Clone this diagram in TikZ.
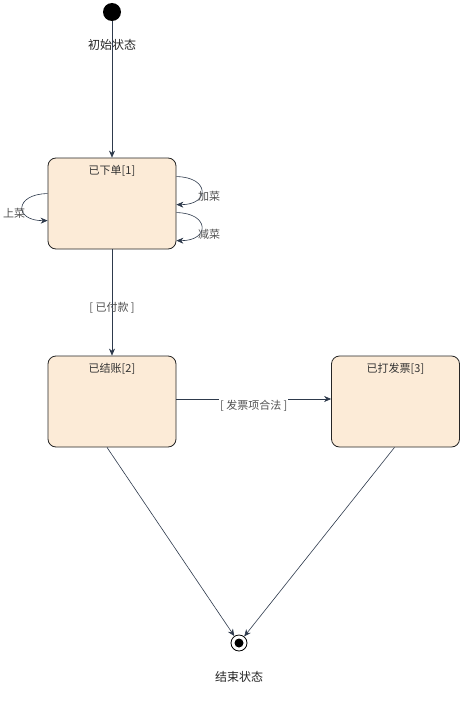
\documentclass[tikz,border=0pt]{standalone}
\usepackage{fontspec}
\setmainfont{Noto Sans CJK SC}
\usepackage{tikz}
\usetikzlibrary{arrows.meta, positioning, calc}
\definecolor{statefill}{HTML}{FCEBD7}
\definecolor{lineclr}{HTML}{2E3A4C}
\definecolor{txtclr}{HTML}{333333}
\tikzset{
  state/.style={
    rectangle, rounded corners=8pt, draw=black!85, thick,
    fill=statefill, minimum width=128pt, minimum height=91pt,
    label={[font=\fontsize{11}{13}\selectfont\color{txtclr}, below=4.5pt]north:#1}
  },
  arrow/.style={-{Stealth[length=7pt,width=6pt]}, draw=lineclr, semithick},
  lbl/.style={font=\fontsize{11}{13}\selectfont, text=txtclr!85, inner sep=1pt},
  bigtxt/.style={font=\fontsize{12}{14}\selectfont, text=black!85}
}
\begin{document}
\begin{tikzpicture}[x=1pt, y=-1pt]
\useasboundingbox[fill=white] (0,0) rectangle (474,701);

% start / end
\node[circle, fill=black, minimum size=18pt, inner sep=0pt] (start) at (112,12) {};
\node[bigtxt] (startlbl) at (112,45) {初始状态};
\node[circle, draw=black, thick, fill=white, minimum size=16pt, inner sep=0pt] (stop) at (239,643) {};
\node[circle, fill=black, minimum size=9pt, inner sep=0pt] (stopdot) at (stop) {};
\node[bigtxt] (stoplbl) at (239,677) {结束状态};

% states
\node[state={已下单[1]}] (ordered) at (112,203.5) {};
\node[state={已结账[2]}] (paid) at (112,401.5) {};
\node[state={已打发票[3]}] (invoiced) at (395.5,401.5) {};

% transitions
\draw[arrow] (start) -- (ordered);
\draw[arrow] (ordered) -- node[lbl, pos=0.55] (paylbl) {[ 已付款 ]} (paid);
\draw[arrow] ($(paid.east)+(0,-2.5)$) -- node[lbl, fill=white, yshift=-7pt] (validlbl) {[ 发票项合法 ]} ($(invoiced.west)+(0,-2.5)$);
\draw[arrow] ($(paid.south)+(-5,0)$) -- (stop);
\draw[arrow] ($(invoiced.south)+(-1,0)$) -- (stop);

% self loops
\draw[arrow] ($(ordered.north west)+(0,36)$) .. controls (14,194) and (14,221) .. ($(ordered.north west)+(0,63)$);
\node[lbl] (servelbl) at (14,213) {上菜};
\draw[arrow] ($(ordered.north east)+(0,19)$) .. controls (210,177) and (210,205) .. ($(ordered.north east)+(0,47)$);
\node[lbl] (addlbl) at (209,196) {加菜};
\draw[arrow] ($(ordered.north east)+(0,55)$) .. controls (210,213) and (210,241) .. ($(ordered.north east)+(0,83)$);
\node[lbl] (droplbl) at (209,234) {减菜};
\end{tikzpicture}
\end{document}
